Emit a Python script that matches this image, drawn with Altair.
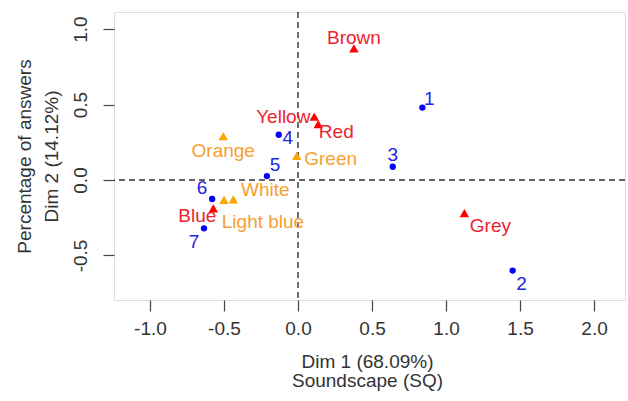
import altair as alt
import pandas as pd

# ---- data ----
cat_labels = ["1", "2", "3", "4", "5", "6", "7"]
cat_x = [0.84, 1.45, 0.64, -0.13, -0.21, -0.58, -0.635]
cat_y = [0.48, -0.60, 0.088, 0.30, 0.026, -0.126, -0.32]

red_labels = ["Brown", "Yellow", "Red", "Grey", "Blue"]
red_x = [0.378, 0.11, 0.137, 1.124, -0.572]
red_y = [0.872, 0.42, 0.37, -0.22, -0.188]

orange_labels = ["Orange", "Green", "White", "Light blue"]
orange_x = [-0.505, -0.009, -0.437, -0.50]
orange_y = [0.29, 0.159, -0.128, -0.132]

x_ticks = [-1.0, -0.5, 0.0, 0.5, 1.0, 1.5, 2.0]
y_ticks = [-0.5, 0.0, 0.5, 1.0]

# ---- label placement (style, not data) ----
offsets = {
    "1": (7, -9), "2": (9, 13), "3": (0, -12), "4": (9, 3), "5": (8, -11),
    "6": (-10, -11), "7": (-10, 14),
    "Brown": (0, -10), "Yellow": (-31, 0), "Red": (18, 8), "Grey": (26, 13),
    "Blue": (-16, 8), "Orange": (0, 15), "Green": (34, 3), "White": (32, -9),
    "Light blue": (39, 22),
}

FONT = "Liberation Sans"
BLUE, RED, ORANGE = "#0000ff", "#ff0000", "#ffa500"
TEXT_COLOR = {"cat": "#2424e0", "red": "#ee2230", "orange": "#f5a032"}

def frame(labels, xs, ys, grp):
    return pd.DataFrame({"label": labels, "x": xs, "y": ys, "grp": grp})

df = pd.concat([
    frame(cat_labels, cat_x, cat_y, "cat"),
    frame(red_labels, red_x, red_y, "red"),
    frame(orange_labels, orange_x, orange_y, "orange"),
], ignore_index=True)

x_scale = alt.Scale(domain=[-1.243, 2.209], nice=False, zero=False)
y_scale = alt.Scale(domain=[-0.795, 1.113], nice=False, zero=False)

HYPHEN = "replace(format(datum.value, '.1f'), '\u2212', '-')"

x_axis = alt.Axis(
    values=x_ticks, labelExpr=HYPHEN, grid=False, domain=False,
    tickSize=11, tickColor="#444", tickWidth=1.2,
    labelFont=FONT, labelFontSize=19, labelColor="#333", labelPadding=8,
    labelFlush=False,
    title=["Dim 1 (68.09%)", "Soundscape (SQ)"],
    titleFont=FONT, titleFontSize=19, titleFontWeight="normal", titleColor="#333",
    titleLineHeight=19, titleX=253, titleY=67, titleAlign="center",
    titleBaseline="alphabetic",
)
y_axis = alt.Axis(
    values=y_ticks, labelExpr=HYPHEN, grid=False, domain=False,
    tickSize=11, tickColor="#444", tickWidth=1.2,
    labelFont=FONT, labelFontSize=19, labelColor="#333", labelPadding=17,
    labelAngle=-90, labelAlign="center", labelBaseline="alphabetic",
    labelFlush=False,
    title=["Percentage of answers", "Dim 2 (14.12%)"],
    titleFont=FONT, titleFontSize=19, titleFontWeight="normal", titleColor="#333",
    titleLineHeight=27, titleX=-84, titleY=144, titleAlign="center",
    titleBaseline="alphabetic", titleAngle=-90,
)

X = alt.X("x:Q", scale=x_scale, axis=x_axis)
Y = alt.Y("y:Q", scale=y_scale, axis=y_axis)

zero = pd.DataFrame({"x": [0.0], "y": [0.0]})
vline = alt.Chart(zero).mark_rule(color="#333", strokeDash=[6, 4], strokeWidth=1.4).encode(x=X)
hline = alt.Chart(zero).mark_rule(color="#333", strokeDash=[6, 4], strokeWidth=1.4).encode(y=Y)

base = alt.Chart(df)
dots = base.transform_filter(alt.datum.grp == "cat").mark_point(
    shape="circle", filled=True, size=40, color=BLUE, opacity=1).encode(x=X, y=Y)
reds = base.transform_filter(alt.datum.grp == "red").mark_point(
    shape="triangle-up", filled=True, size=90, color=RED, opacity=1).encode(x=X, y=Y)
oranges = base.transform_filter(alt.datum.grp == "orange").mark_point(
    shape="triangle-up", filled=True, size=90, color=ORANGE, opacity=1).encode(x=X, y=Y)

layers = [vline, hline, dots, reds, oranges]
for _, row in df.iterrows():
    dx, dy = offsets[row["label"]]
    layers.append(
        base.transform_filter(alt.datum.label == row["label"]).mark_text(
            dx=dx, dy=dy, font=FONT, fontSize=19, color=TEXT_COLOR[row["grp"]],
            align="center", baseline="middle",
        ).encode(x=X, y=Y, text="label:N")
    )

chart = alt.layer(*layers).properties(
    width=511, height=288,
    autosize=alt.AutoSizeParams(type="none"),
    padding={"left": 114, "top": 12, "right": 3, "bottom": 101},
).configure_view(stroke="#333", strokeWidth=1.5).configure(background="white")

chart.save("out.html", embed_options={"renderer": "svg", "actions": False})
